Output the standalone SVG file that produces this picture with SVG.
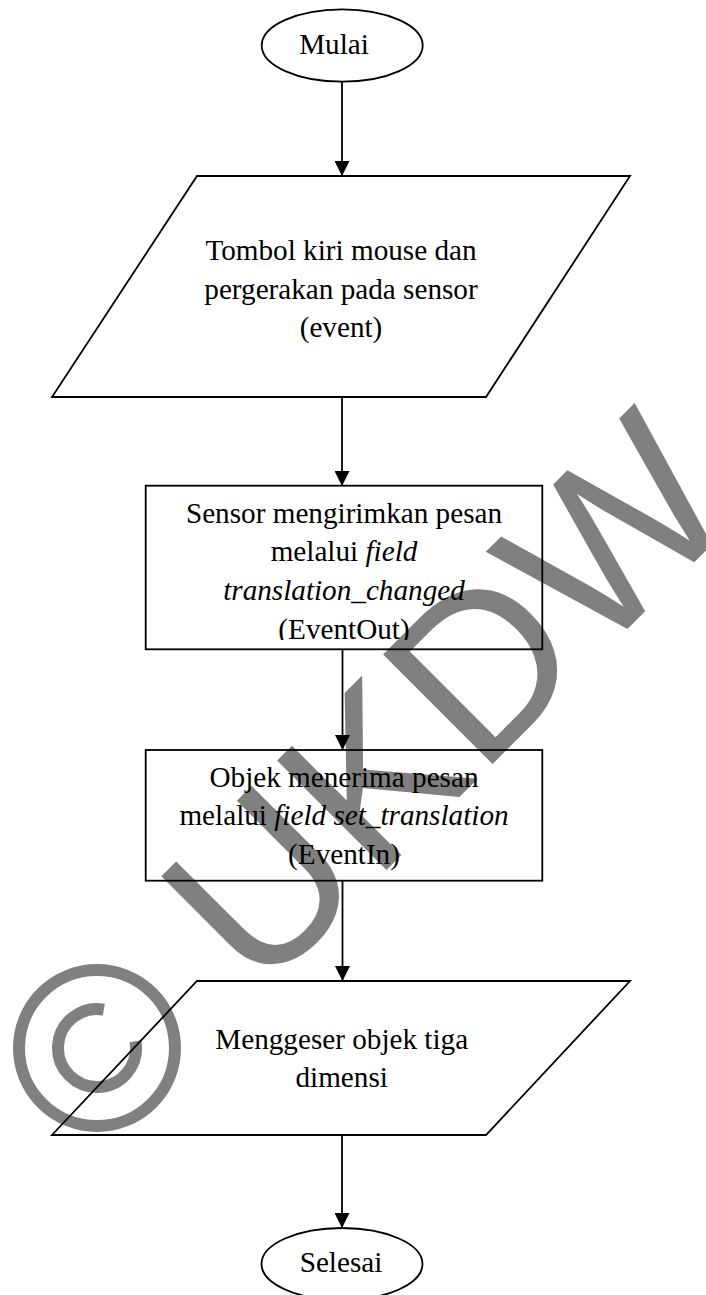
<svg xmlns="http://www.w3.org/2000/svg" width="706" height="1295" viewBox="0 0 706 1295">
<style>
.shape{fill:none;stroke:#000;stroke-width:1.8}
.conn{fill:none;stroke:#000;stroke-width:1.8;marker-end:url(#arrow)}
.t{font-family:"Liberation Serif","Times New Roman",serif;font-size:29.2px;fill:#000;text-anchor:middle}
.i{font-style:italic}
.wm{fill:#808080}
.wmr{fill:none;stroke:#808080}
</style>
<defs>
<marker id="arrow" markerUnits="userSpaceOnUse" viewBox="0 0 15 15" refX="15" refY="7.5" markerWidth="15" markerHeight="15" orient="auto">
<path d="M0,0 L15,7.5 L0,15 z" fill="#000"/>
</marker>
<clipPath id="clip1"><rect x="146" y="486" width="396" height="154"/></clipPath>
</defs>
<rect width="706" height="1295" fill="#fff"/>
<g id="watermark">
<text class="wm" x="0" y="0" transform="translate(258.6,998) rotate(-45)" font-family="Liberation Sans, Arial, sans-serif" font-size="225">UKDW</text>
<circle class="wmr" cx="97" cy="1048" r="78" stroke-width="12"/>
<path class="wmr" stroke-width="12" d="M135.4,1041.2 A39,39 0 1 1 103.8,1009.6"/>
</g>
<g id="connectors">
<line class="conn" x1="342" y1="82" x2="342" y2="176"/>
<line class="conn" x1="342" y1="397" x2="342" y2="486"/>
<line class="conn" x1="342.5" y1="649" x2="342.5" y2="750"/>
<line class="conn" x1="342.5" y1="881" x2="342.5" y2="981"/>
<line class="conn" x1="342" y1="1135" x2="342" y2="1228"/>
</g>
<g id="mulai">
<ellipse class="shape" cx="342.2" cy="45.5" rx="80.5" ry="36.2"/>
<text class="t" x="334" y="54">Mulai</text>
</g>
<g id="input-event">
<polygon class="shape" points="197,176 630,176 486,397 52,397"/>
<text class="t" x="341" y="260">Tombol kiri mouse dan</text>
<text class="t" x="341" y="298.5">pergerakan pada sensor</text>
<text class="t" x="341" y="337">(event)</text>
</g>
<g id="sensor">
<rect class="shape" x="145.7" y="485.7" width="396.6" height="163.6"/>
<g clip-path="url(#clip1)">
<text class="t" x="344" y="522.7">Sensor mengirimkan pesan</text>
<text class="t" x="344" y="561.4">melalui <tspan class="i">field</tspan></text>
<text class="t i" x="344" y="600.1">translation_changed</text>
<text class="t" x="344" y="638.8">(EventOut)</text>
</g>
</g>
<g id="objek">
<rect class="shape" x="145.7" y="750" width="396.6" height="130.7"/>
<text class="t" x="344" y="786.5">Objek menerima pesan</text>
<text class="t" x="344" y="825.2">melalui <tspan class="i">field set_translation</tspan></text>
<text class="t" x="344" y="863.9">(EventIn)</text>
</g>
<g id="output-geser">
<polygon class="shape" points="197,981 630,981 486,1135 52,1135"/>
<text class="t" x="341.7" y="1048.5">Menggeser objek tiga</text>
<text class="t" x="341.7" y="1087">dimensi</text>
</g>
<g id="selesai">
<ellipse class="shape" cx="342" cy="1264" rx="80.5" ry="36"/>
<text class="t" x="341" y="1272">Selesai</text>
</g>
</svg>
